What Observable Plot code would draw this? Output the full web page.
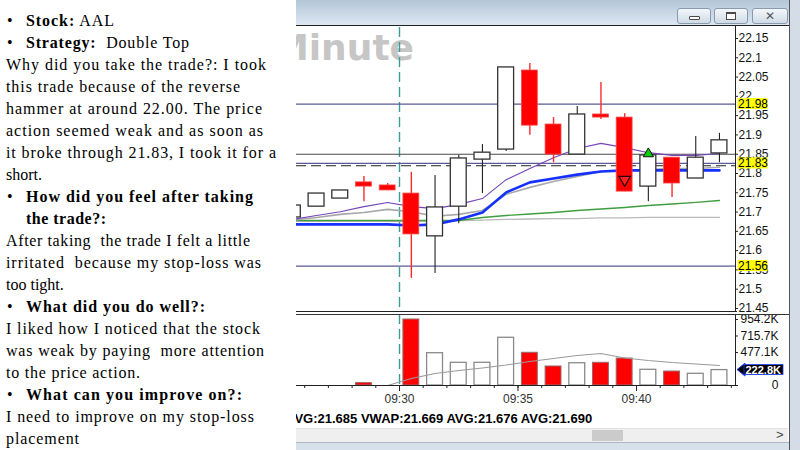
<!DOCTYPE html>
<html>
<head>
<meta charset="utf-8">
<script src="https://cdn.jsdelivr.net/npm/d3@7"></script>
<script src="https://cdn.jsdelivr.net/npm/@observablehq/plot@0.6"></script>
<style>
html,body{margin:0;padding:0;background:#fff;}
body{width:800px;height:450px;position:relative;overflow:hidden;}
#notes{position:absolute;left:0;top:0;width:296px;height:450px;font-family:"Liberation Serif","Times New Roman",serif;font-size:16px;color:#000;}
.ln{position:absolute;white-space:pre;line-height:22px;height:22px;}
.bul{position:absolute;left:7px;line-height:22px;}
#win{position:absolute;left:296px;top:0;width:504px;height:450px;overflow:hidden;background:#fff;font-family:"Liberation Sans",Arial,sans-serif;}
#titlebar{position:absolute;left:0;top:0;width:496px;height:25px;background:linear-gradient(#b5c6d8,#dce7f2);border-bottom:1px solid #222;}
.btn{position:absolute;top:8px;height:14px;border:1px solid #8a9aae;border-radius:3px;background:linear-gradient(#f3f7fb,#d0dbe6);}
.hl{position:absolute;background:#222;}
#wm{position:absolute;right:386px;top:30px;line-height:36px;white-space:pre;font-family:"DejaVu Sans",sans-serif;font-weight:bold;font-size:36px;color:#c6c6c6;}
#status{position:absolute;left:-10px;top:411px;line-height:16px;font-weight:bold;font-size:13px;color:#000;white-space:pre;}
#scroll{position:absolute;left:0;top:428px;width:492px;height:13px;background:#efefef;border-top:1px solid #e2e2e2;}
#thumb{position:absolute;left:296px;top:1px;width:31px;height:11px;background:#cbcbcb;}
#arrow{position:absolute;left:480px;top:-2px;font-size:13px;color:#444;}
#strip{position:absolute;left:0;top:442px;width:504px;height:8px;background:#d7e1ec;border-top:1px solid #aab7c6;}
#rframe{position:absolute;left:493px;top:0;width:11px;height:450px;background:#d4dde7;border-left:1px solid #555;}
</style>
</head>
<body>
<div id="notes"></div>
<div id="win">
  <div id="titlebar"></div>
  <div class="btn" style="left:381px;width:32px"><div style="position:absolute;left:11px;top:7px;width:9px;height:2px;border:1px solid #4a4a4a;border-radius:1px;background:#fff"></div></div>
  <div class="btn" style="left:418px;width:32px"><div style="position:absolute;left:11px;top:3px;width:8px;height:5px;border:1px solid #4a4a4a;border-top-width:2px;background:#fff"></div></div>
  <div class="btn" style="left:456px;width:34px;text-align:center;font:bold 12px 'DejaVu Sans';line-height:14px;color:#555">✕</div>
  <div id="wm">Minute</div>
  <div id="price" style="position:absolute;left:0;top:27px;width:492px"></div>
  <div id="volume" style="position:absolute;left:0;top:313px;width:492px"></div>
  <div class="hl" style="left:439px;top:26px;width:1px;height:285px"></div>
  <div class="hl" style="left:0;top:311px;width:441px;height:1px"></div>
  <div class="hl" style="left:0;top:314px;width:493px;height:1px;background:#333"></div>
  <div class="hl" style="left:439px;top:315px;width:1px;height:71px"></div>
  <div id="status"></div>
  <div id="scroll"><div id="thumb"></div><div id="arrow">&gt;</div></div>
  <div id="strip"></div>
  <div id="rframe"></div>
</div>
<script>
// ---------- data ----------
const times   = ["09:25","09:26","09:27","09:28","09:29","09:30","09:31","09:32","09:33","09:34","09:35","09:36","09:37","09:38","09:39","09:40","09:41","09:42","09:43"];
const opens   = [21.686,21.714,21.735,21.777,21.769,21.748,21.637,21.714,21.836,21.862,22.067,21.927,21.849,21.953,21.945,21.766,21.841,21.787,21.852];
const highs   = [21.717,21.748,21.756,21.792,21.774,21.803,21.795,21.847,21.875,22.075,22.085,21.945,21.974,22.036,21.955,21.847,21.841,21.896,21.904];
const lows    = [21.686,21.714,21.735,21.727,21.756,21.528,21.541,21.670,21.748,21.857,21.899,21.828,21.849,21.940,21.753,21.727,21.738,21.787,21.828];
const closes  = [21.717,21.748,21.756,21.766,21.756,21.642,21.712,21.839,21.854,22.075,21.924,21.849,21.953,21.945,21.753,21.847,21.774,21.841,21.886];
const volumes = [0,0,0,35000,0,954200,467000,328000,328000,690000,473000,275000,322000,328000,390000,227000,202000,169000,222800];
const volumeAvg = [null,null,null,null,0,101000,173000,217000,253000,296000,347000,390000,434000,463000,398000,361000,332000,311000,289000];

const maPurple    = [21.681,21.691,21.701,21.714,21.725,21.714,21.709,21.720,21.735,21.784,21.813,21.841,21.865,21.878,21.867,21.854,21.847,21.847,21.852];
const maGreyUpper = [21.679,21.686,21.694,21.699,21.707,21.701,21.689,21.694,21.704,21.746,21.764,21.779,21.792,21.805,21.808,21.810,21.813,21.813,21.816];
const maBlue      = [21.668,21.668,21.668,21.668,21.668,21.665,21.668,21.681,21.699,21.751,21.777,21.787,21.797,21.805,21.808,21.808,21.808,21.808,21.808];
const maGreen     = [21.678,21.678,21.678,21.678,21.678,21.678,21.678,21.678,21.686,21.691,21.695,21.699,21.704,21.708,21.712,21.717,21.721,21.725,21.730];
const maGreyLower = [21.676,21.676,21.676,21.676,21.676,21.676,21.677,21.678,21.679,21.681,21.682,21.683,21.683,21.685,21.685,21.686,21.686,21.686,21.686];

const alertLevels = [21.98, 21.826, 21.56];
const alertLabels = ["21.98","21.83","21.56"];
const priorLevel = [21.85];
const entryLevel = [21.82];

const sellSignals = [{t:"09:39", price:21.784}];
const buySignals  = [{t:"09:40", price:21.851}];

const sessionOpen = "09:30";
const timeTickLabels = ["09:30","09:35","09:40"];
const priceTickLabels = ["21.45","21.5","21.55","21.6","21.65","21.7","21.75","21.8","21.85","21.9","21.95","22","22.05","22.1","22.15"];
const volTicks = [0, 477100, 715700, 954200];
const volTickLabels = ["0","477.1K","715.7K","954.2K"];
const currentVolume = 222800;
const currentVolumeLabel = "222.8K";

const statusNames  = ["AVG","VWAP","AVG","AVG"];
const statusValues = ["21.685","21.669","21.676","21.690"];

const noteLines = [
  ["b","<b>Stock:</b> AAL"],
  ["b","<b>Strategy:</b>  Double Top"],
  ["","Why did you take the trade?: I took"],
  ["","this trade because of the reverse"],
  ["","hammer at around 22.00. The price"],
  ["","action seemed weak and as soon as"],
  ["","it broke through 21.83, I took it for a"],
  ["","short."],
  ["b","<b>How did you feel after taking</b>"],
  ["i","<b>the trade?:</b>"],
  ["","After taking  the trade I felt a little"],
  ["","irritated  because my stop-loss was"],
  ["","too tight."],
  ["b","<b>What did you do well?:</b>"],
  ["","I liked how I noticed that the stock"],
  ["","was weak by paying  more attention"],
  ["","to the price action."],
  ["b","<b>What can you improve on?:</b>"],
  ["","I need to improve on my stop-loss"],
  ["","placement"]
];
const noteRightEdges = [114,189,266,240,262,263,276,null,253,106,250,261,null,205,260,264,140,242,254,79];

// ---------- notes ----------
const notes = document.getElementById("notes");
noteLines.forEach(([kind, html], k) => {
  const top = 10 + 22 * k;
  if (kind === "b") {
    const b = document.createElement("div");
    b.className = "bul"; b.style.top = top + "px"; b.textContent = "•";
    notes.appendChild(b);
  }
  const d = document.createElement("div");
  d.className = "ln"; d.style.top = top + "px";
  const left = kind === "" ? 6 : 26;
  d.style.left = left + "px";
  d.innerHTML = html;
  notes.appendChild(d);
  const target = noteRightEdges[k];
  if (target) {
    const w = d.getBoundingClientRect().width;
    const n = d.textContent.length;
    if (n > 1) d.style.letterSpacing = ((target - left - w) / (n - 1)).toFixed(3) + "px";
  }
});

// ---------- status ----------
document.getElementById("status").textContent =
  statusNames.map((n, k) => n + ":" + statusValues[k]).join(" ");

// ---------- chart ----------
const idx = t => { const [h, m] = t.split(":").map(Number); return h * 60 + m - (9 * 60 + 30); };
const candles = times.map((t, k) => ({
  t, i: idx(t), open: opens[k], high: highs[k], low: lows[k], close: closes[k],
  vol: volumes[k], vavg: volumeAvg[k], up: closes[k] >= opens[k], k
}));
const ups = candles.filter(d => d.up), downs = candles.filter(d => !d.up);
const xDomain = [-4.346, 14.177];
const ns = "http://www.w3.org/2000/svg";
function el(tag, attrs, text) {
  const e = document.createElementNS(ns, tag);
  for (const k in attrs) e.setAttribute(k, attrs[k]);
  if (text != null) e.textContent = text;
  return e;
}
const baseStyle = {background: "transparent", fontFamily: "Liberation Sans, Arial, sans-serif", fontSize: "12px", color: "#111", overflow: "visible"};
const center = d => d.i + 0.5;

const maSeries = [
  {v: maGreyLower, stroke: "#b9b9b9", w: 1.3},
  {v: maGreen, stroke: "#3f9e3f", w: 1.4},
  {v: maGreyUpper, stroke: "#a8a8a8", w: 1.6},
  {v: maPurple, stroke: "#7446b8", w: 1.1},
  {v: maBlue, stroke: "#1530ff", w: 2.6}
];

const priceTicks = priceTickLabels.map(Number);
const priceTags = (index, scales, values, dims) => {
  const g = el("g", {"text-anchor": "start"});
  const x0 = dims.width - dims.marginRight;
  alertLevels.forEach((p, k) => {
    const y = scales.y(p);
    g.appendChild(el("rect", {x: x0 + 2.5, y: y - 5.5, width: 30, height: 11, fill: "#ffff00"}));
    g.appendChild(el("text", {x: x0 + 3, y: y + 4.3, fill: "#000", "font-size": 12, "text-anchor": "start"}, alertLabels[k]));
  });
  return g;
};

const priceChart = Plot.plot({
  width: 492, height: 289, marginTop: 0, marginBottom: 5, marginLeft: 0, marginRight: 53,
  x: {domain: xDomain, axis: null},
  y: {domain: [21.4422, 22.1785], axis: null},
  style: baseStyle,
  marks: [
    Plot.ruleX([idx(sessionOpen)], {stroke: "#3a9c95", strokeWidth: 1.4, strokeDasharray: "10,5"}),
    Plot.ruleY(priorLevel, {stroke: "#4a4a4a", strokeWidth: 1.1}),
    Plot.ruleY(alertLevels, {stroke: "#5a5a96", strokeWidth: 1.3}),
    Plot.ruleY(entryLevel, {stroke: "#222", strokeWidth: 1.1, strokeDasharray: "10,5"}),
    ...maSeries.map(s => Plot.line(candles, {x: center, y: d => s.v[d.k], stroke: s.stroke, strokeWidth: s.w, clip: true})),
    Plot.ruleX(ups, {x: center, y1: "low", y2: "high", stroke: "#222", strokeWidth: 1.1, clip: true}),
    Plot.ruleX(downs, {x: center, y1: "low", y2: "high", stroke: "#ff2a2a", strokeWidth: 1.4, clip: true}),
    Plot.rect(ups, {x1: d => d.i, x2: d => d.i + 1, y1: "open", y2: "close", insetLeft: 3.9, insetRight: 3.9, fill: "#fff", stroke: "#333", strokeWidth: 1.3, clip: true}),
    Plot.rect(downs, {x1: d => d.i, x2: d => d.i + 1, y1: "open", y2: "close", insetLeft: 3.9, insetRight: 3.9, fill: "#ff0000", stroke: "#ff4a4a", strokeWidth: 0.8, clip: true}),
    Plot.dot(sellSignals, {x: d => idx(d.t) + 0.5, y: "price", symbol: "triangle", rotate: 180, r: 4.3, fill: "#ff2020", stroke: "#2a0000", strokeWidth: 1.2}),
    Plot.dot(buySignals, {x: d => idx(d.t) + 0.5, y: "price", symbol: "triangle", r: 3.8, fill: "#00d000", stroke: "#111", strokeWidth: 1}),
    Plot.axisY({anchor: "right", ticks: priceTicks, tickSize: 2, tickPadding: 1, stroke: "#222",
      tickFormat: d => priceTickLabels[priceTicks.indexOf(d)], fill: "#111", label: null}),
    priceTags
  ]
});
document.getElementById("price").appendChild(priceChart);

const volBadge = (index, scales, values, dims) => {
  const g = el("g", {"text-anchor": "start"});
  const x0 = dims.width - dims.marginRight;
  const y = scales.y(currentVolume);
  g.appendChild(el("polygon", {points: `${x0 + 2},${y} ${x0 + 10},${y - 6.5} ${x0 + 10},${y + 6.5}`, fill: "#000", stroke: "#2040ff", "stroke-width": 1}));
  g.appendChild(el("rect", {x: x0 + 9, y: y - 5, width: 39, height: 10, fill: "#000", stroke: "#2040ff", "stroke-width": 0.8}));
  g.appendChild(el("text", {x: x0 + 10.5, y: y + 4, fill: "#fff", "font-size": 11, "font-weight": "bold", "text-anchor": "start"}, currentVolumeLabel));
  return g;
};

const majorTicks = timeTickLabels.map(idx);
const volChart = Plot.plot({
  width: 492, height: 100, marginTop: 1, marginBottom: 28, marginLeft: 0, marginRight: 53,
  x: {domain: xDomain, axis: null},
  y: {domain: [0, 1026450], axis: null},
  style: baseStyle,
  marks: [
    Plot.ruleX([idx(sessionOpen)], {stroke: "#3a9c95", strokeWidth: 1.4, strokeDasharray: "10,5"}),
    Plot.rect(ups.filter(d => d.vol > 0), {x1: d => d.i, x2: d => d.i + 1, y1: 0, y2: "vol", insetLeft: 3.9, insetRight: 3.9, fill: "#fff", stroke: "#8a8a8a", strokeWidth: 1.3, clip: true}),
    Plot.rect(downs.filter(d => d.vol > 0), {x1: d => d.i, x2: d => d.i + 1, y1: 0, y2: "vol", insetLeft: 3.9, insetRight: 3.9, fill: "#ff0000", stroke: "#9a6a6a", strokeWidth: 1, clip: true}),
    Plot.line(candles.filter(d => d.vavg != null), {x: center, y: "vavg", stroke: "#9a9a9a", strokeWidth: 1.1}),
    Plot.ruleY([0], {stroke: "#222", strokeWidth: 1.2}),
    Plot.axisX({ticks: d3.range(Math.ceil(xDomain[0]), Math.floor(xDomain[1]) + 1), tickSize: 3, tickFormat: () => "", stroke: "#222", label: null}),
    Plot.axisX({ticks: majorTicks, tickSize: 6, tickPadding: 3, stroke: "#222", fill: "#333",
      tickFormat: d => timeTickLabels[majorTicks.indexOf(d)], label: null}),
    Plot.axisY({anchor: "right", ticks: volTicks, tickSize: 2, tickPadding: 41, textAnchor: "end", stroke: "#222", fill: "#111",
      tickFormat: d => volTickLabels[volTicks.indexOf(d)], label: null}),
    volBadge
  ]
});
document.getElementById("volume").appendChild(volChart);
</script>
</body>
</html>
